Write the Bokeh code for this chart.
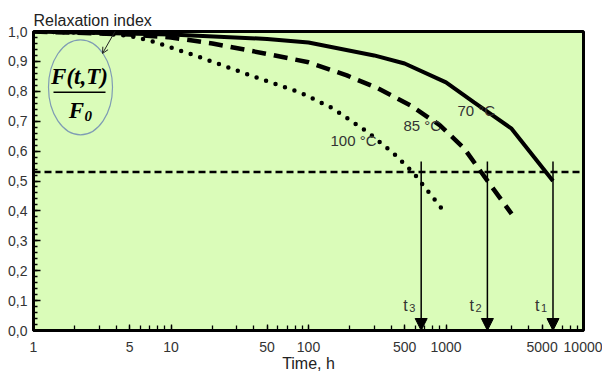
from bokeh.plotting import figure
from bokeh.models import (FixedTicker, Label, Arrow, NormalHead, OpenHead, Span,
                          CustomJSTickFormatter)
from bokeh.embed import file_html
from bokeh.resources import INLINE

# Relaxation index F(t,T)/F0 versus ageing time at three temperatures
time_70 = [1, 10, 50, 100, 300, 500, 1000, 1600, 3000, 6000]
ratio_70 = [1.0, 0.99, 0.975, 0.963, 0.92, 0.893, 0.83, 0.763, 0.675, 0.50]

time_85 = [1, 5, 10, 20, 50, 100, 190, 320, 550, 900, 1350, 1800, 3000]
ratio_85 = [1.0, 0.99, 0.98, 0.96, 0.925, 0.897, 0.853, 0.81, 0.753, 0.687, 0.61, 0.53, 0.39]

time_100 = [1, 3, 5, 7, 16, 38, 88, 150, 270, 415, 580, 960]
ratio_100 = [1.0, 0.995, 0.985, 0.97, 0.915, 0.853, 0.795, 0.743, 0.663, 0.593, 0.527, 0.40]

# Threshold level and the times at which each curve reaches it
threshold = 0.53
crit_times = [660, 2000, 6000]
crit_names = ["3", "2", "1"]

x_tick_values = [1, 5, 10, 50, 100, 500, 1000, 5000, 10000]
y_tick_values = [round(0.1 * i, 1) for i in range(11)]

FL, FT, FB = 33, 31, 331          # frame edges in canvas pixels
DEC = 137.5                        # pixels per decade on the time axis


def fx(px):
    return 10 ** ((px - FL) / DEC)


def fy(py):
    return (FB - py) / (FB - FT)


p = figure(width=602, height=374, x_axis_type="log", x_range=(1, 10000),
           y_range=(0, 1.0), output_backend="svg", toolbar_location=None,
           min_border_left=FL, min_border_right=19, min_border_top=FT,
           min_border_bottom=374 - FB)

p.background_fill_color = "#dafcb9"
p.border_fill_color = "white"
p.outline_line_color = "black"
p.outline_line_width = 3
p.xgrid.visible = False
p.ygrid.visible = False

# Caption above the frame
p.title.text = "Relaxation index"
p.title.align = "left"
p.title.text_font = "Liberation Sans"
p.title.text_font_size = "16px"
p.title.text_font_style = "normal"
p.title.text_color = "#222222"
p.title.standoff = 6
p.title.offset = 0

minor_x = [k * 10 ** d for d in range(4) for k in range(1, 10)]
p.xaxis.ticker = FixedTicker(ticks=x_tick_values, minor_ticks=minor_x)
p.xaxis.formatter = CustomJSTickFormatter(code="return String(Math.round(tick));")
p.yaxis.ticker = FixedTicker(ticks=y_tick_values,
                             minor_ticks=[round(0.02 * i, 2) for i in range(51)])
p.yaxis.formatter = CustomJSTickFormatter(code="return tick.toFixed(1).replace('.', ',');")

for ax in (p.xaxis[0], p.yaxis[0]):
    ax.axis_line_width = 3
    ax.axis_line_color = "black"
    ax.major_tick_out = 0
    ax.minor_tick_out = 0
    ax.major_tick_line_width = 1.3
    ax.minor_tick_line_width = 1.3
    ax.major_label_text_font = "Liberation Sans"
    ax.major_label_text_font_size = "14px"
    ax.major_label_text_color = "#333333"
p.xaxis.major_tick_in = 6
p.xaxis.minor_tick_in = 5
p.xaxis.major_label_standoff = 11
p.yaxis.major_tick_in = 7
p.yaxis.minor_tick_in = 4
p.yaxis.major_label_standoff = 6

p.xaxis.axis_label = "Time, h"
p.xaxis.axis_label_text_font = "Liberation Sans"
p.xaxis.axis_label_text_font_size = "16px"
p.xaxis.axis_label_text_font_style = "normal"
p.xaxis.axis_label_text_color = "#222222"
p.xaxis.axis_label_standoff = 0

# Threshold line
p.add_layout(Span(location=threshold, dimension="width", line_color="black",
                  line_width=2.5, line_dash="7 4"))

# Relaxation curves
p.line(time_70, ratio_70, line_color="black", line_width=4)
p.line(time_85, ratio_85, line_color="black", line_width=4.5, line_dash="14 8")
p.line(time_100, ratio_100, line_color="black", line_width=4.5,
       line_dash="0 10", line_cap="round")

# Arrows down to the time axis at the threshold times
for t, name in zip(crit_times, crit_names):
    p.add_layout(Arrow(x_start=t, y_start=0.565, x_end=t, y_end=0.0,
                       line_color="black", line_width=1.5,
                       end=NormalHead(size=12, fill_color="black",
                                      line_color="black")))
    p.add_layout(Label(x=t, y=fy(306), x_offset=-18, text="t",
                       text_font="Liberation Sans", text_font_size="16px",
                       text_color="#333333", text_baseline="middle",
                       text_align="left"))
    p.add_layout(Label(x=t, y=fy(306), x_offset=-12, y_offset=-2, text=name,
                       text_font="Liberation Sans", text_font_size="11px",
                       text_color="#333333", text_baseline="middle",
                       text_align="left"))

# Curve labels
txt = dict(text_font="Liberation Sans", text_font_size="15px",
           text_color="#333333", text_baseline="middle", text_align="left")
p.add_layout(Label(x=fx(457), y=fy(110), text="70 °C", **txt))
p.add_layout(Label(x=fx(403), y=fy(125), text="85 °C", **txt))
p.add_layout(Label(x=fx(330), y=fy(140), text="100 °C", **txt))

# Formula badge
p.ellipse(x=[fx(80)], y=[fy(87)], width=64, height=95, width_units="screen",
          height_units="screen", fill_alpha=0, line_color="#7f9cb4", line_width=1.2)
math = dict(text_font="Liberation Serif", text_font_style="bold italic",
            text_color="black", text_baseline="middle")
p.add_layout(Label(x=fx(79), y=fy(76), text="F(t,T)", text_font_size="23px",
                   text_align="center", **math))
p.segment(x0=[fx(53)], y0=[fy(92)], x1=[fx(105)], y1=[fy(92)],
          line_color="black", line_width=1.5)
p.add_layout(Label(x=fx(76), y=fy(110), text="F", text_font_size="23px",
                   text_align="center", **math))
p.add_layout(Label(x=fx(84), y=fy(116), text="0", text_font_size="15px",
                   text_align="left", **math))

# Pointer from the caption to the badge
p.add_layout(Arrow(x_start=fx(115), y_start=fy(30), x_end=fx(102), y_end=fy(53),
                   line_color="#222222", line_width=1,
                   end=OpenHead(size=6, line_color="#222222", line_width=1)))

open("out.html", "w").write(file_html(p, INLINE))
